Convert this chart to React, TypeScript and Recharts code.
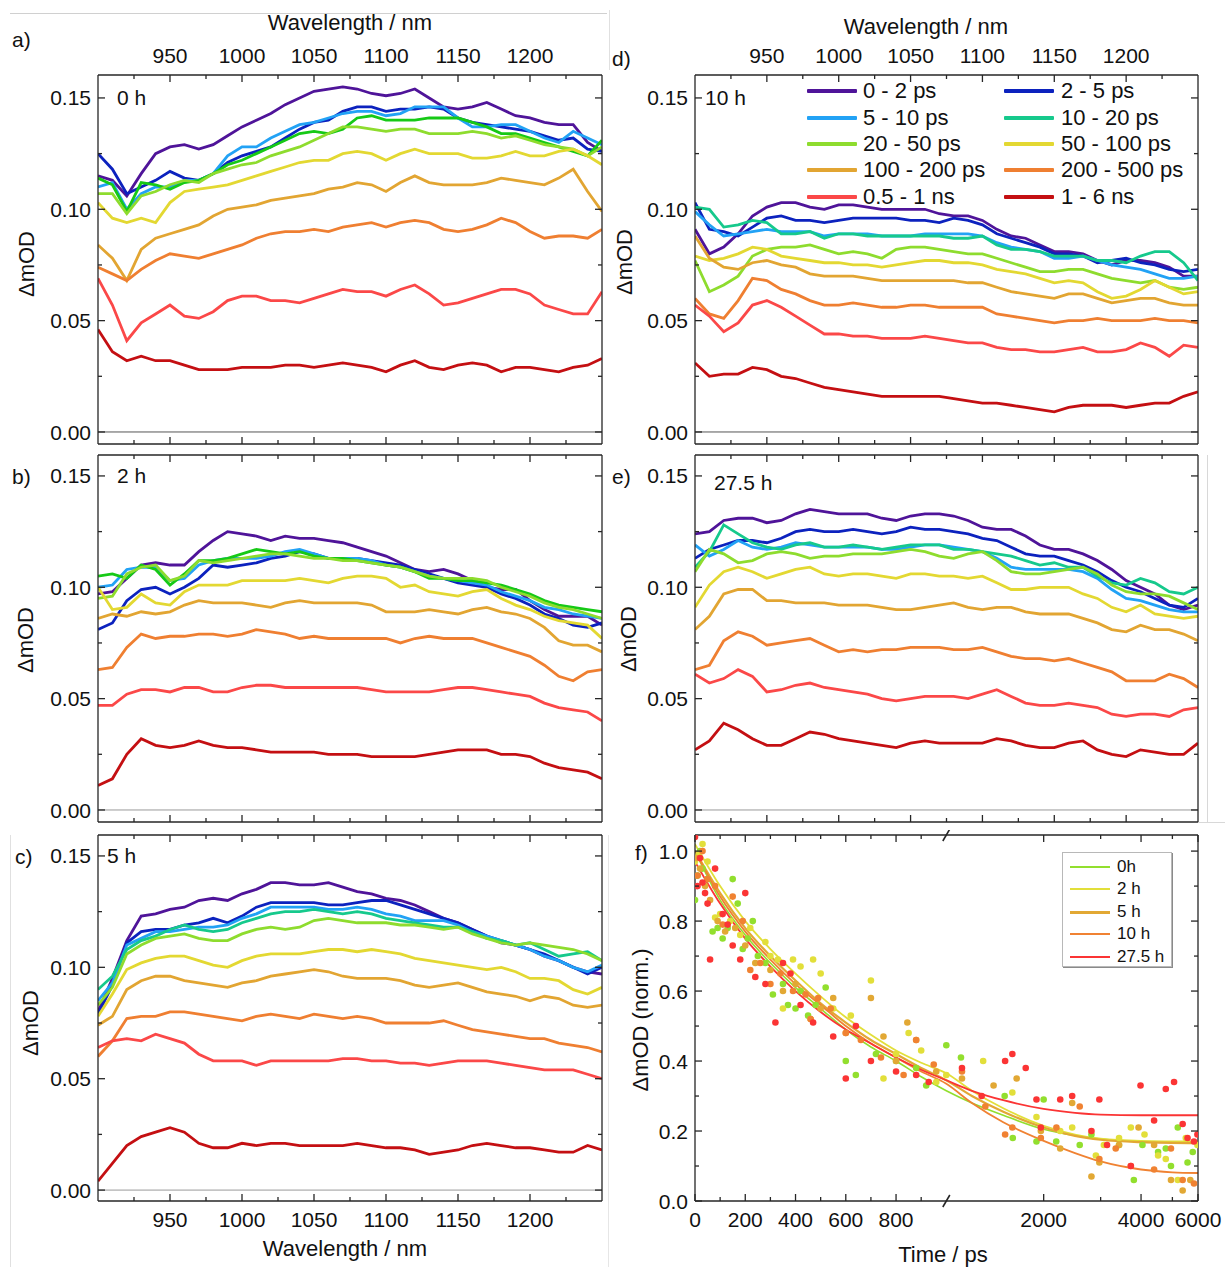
import React from 'react';
import { LineChart, Line, XAxis, YAxis, ReferenceLine, ComposedChart, Scatter, ReferenceDot } from 'recharts';

const FONT = '"Liberation Sans", Arial, Helvetica, sans-serif';

// ---------- spectra (panels a-e) ----------
const wavelengths = [900, 910, 920, 930, 940, 950, 960, 970, 980, 990, 1000, 1010, 1020, 1030, 1040, 1050, 1060, 1070, 1080, 1090, 1100, 1110, 1120, 1130, 1140, 1150, 1160, 1170, 1180, 1190, 1200, 1210, 1220, 1230, 1240, 1250];
const delayLabels = ['0 - 2 ps', '2 - 5 ps', '5 - 10 ps', '10 - 20 ps', '20 - 50 ps', '50 - 100 ps', '100 - 200 ps', '200 - 500 ps', '0.5 - 1 ns', '1 - 6 ns'];
const delayColors = ['#4f1499', '#0c22be', '#22a2f5', '#16c98c', '#8edc2e', '#e3d832', '#e2a532', '#ef7f31', '#fb4848', '#c40f12'];
const delayColorsEarly = ['#4f1499', '#0c22be', '#22a2f5', '#16c916', '#8edc2e', '#e3d832', '#e2a532', '#ef7f31', '#fb4848', '#c40f12'];

const xMajor = [950, 1000, 1050, 1100, 1150, 1200];
const xMinor = [925, 975, 1025, 1075, 1125, 1175, 1225];
const yMajor = [0, 0.05, 0.1, 0.15];
const yMinor = [0.025, 0.075, 0.125];

// 0 h
const spectra0h: number[][] = [
  [0.115, 0.113, 0.106, 0.116, 0.125, 0.128, 0.129, 0.127, 0.129, 0.133, 0.137, 0.140, 0.143, 0.147, 0.150, 0.153, 0.154, 0.155, 0.154, 0.152, 0.151, 0.152, 0.154, 0.150, 0.146, 0.145, 0.146, 0.148, 0.145, 0.142, 0.141, 0.139, 0.138, 0.138, 0.130, 0.126],
  [0.125, 0.118, 0.107, 0.110, 0.113, 0.117, 0.114, 0.113, 0.116, 0.121, 0.124, 0.126, 0.128, 0.132, 0.136, 0.139, 0.140, 0.144, 0.146, 0.146, 0.144, 0.145, 0.145, 0.146, 0.145, 0.141, 0.139, 0.138, 0.137, 0.136, 0.135, 0.133, 0.131, 0.132, 0.127, 0.126],
  [0.110, 0.112, 0.100, 0.107, 0.110, 0.110, 0.113, 0.113, 0.116, 0.124, 0.128, 0.128, 0.132, 0.135, 0.138, 0.139, 0.141, 0.143, 0.144, 0.144, 0.142, 0.143, 0.146, 0.146, 0.146, 0.141, 0.137, 0.137, 0.138, 0.138, 0.135, 0.132, 0.130, 0.135, 0.132, 0.129],
  [0.114, 0.111, 0.099, 0.112, 0.111, 0.109, 0.112, 0.113, 0.116, 0.120, 0.122, 0.125, 0.128, 0.131, 0.134, 0.135, 0.134, 0.136, 0.141, 0.142, 0.140, 0.140, 0.140, 0.141, 0.141, 0.141, 0.139, 0.137, 0.134, 0.134, 0.132, 0.130, 0.128, 0.126, 0.124, 0.131],
  [0.107, 0.107, 0.098, 0.106, 0.108, 0.111, 0.113, 0.112, 0.116, 0.118, 0.120, 0.121, 0.124, 0.126, 0.128, 0.131, 0.134, 0.137, 0.137, 0.136, 0.135, 0.136, 0.136, 0.134, 0.134, 0.134, 0.135, 0.134, 0.132, 0.133, 0.131, 0.129, 0.128, 0.127, 0.124, 0.128],
  [0.103, 0.096, 0.094, 0.096, 0.094, 0.103, 0.108, 0.109, 0.110, 0.111, 0.113, 0.115, 0.117, 0.119, 0.121, 0.122, 0.122, 0.125, 0.126, 0.125, 0.122, 0.125, 0.127, 0.125, 0.125, 0.125, 0.123, 0.123, 0.124, 0.126, 0.124, 0.124, 0.126, 0.127, 0.124, 0.120],
  [0.084, 0.078, 0.068, 0.082, 0.087, 0.089, 0.091, 0.093, 0.097, 0.100, 0.101, 0.102, 0.104, 0.105, 0.106, 0.107, 0.109, 0.110, 0.112, 0.111, 0.108, 0.112, 0.115, 0.112, 0.111, 0.111, 0.111, 0.112, 0.114, 0.113, 0.112, 0.111, 0.114, 0.118, 0.108, 0.099],
  [0.074, 0.071, 0.068, 0.073, 0.077, 0.080, 0.079, 0.078, 0.080, 0.082, 0.084, 0.087, 0.089, 0.090, 0.090, 0.091, 0.090, 0.092, 0.093, 0.094, 0.092, 0.094, 0.095, 0.094, 0.091, 0.090, 0.091, 0.093, 0.096, 0.094, 0.090, 0.087, 0.088, 0.088, 0.087, 0.091],
  [0.069, 0.057, 0.041, 0.049, 0.053, 0.057, 0.052, 0.051, 0.054, 0.059, 0.061, 0.061, 0.059, 0.059, 0.058, 0.060, 0.062, 0.064, 0.063, 0.063, 0.061, 0.064, 0.066, 0.062, 0.057, 0.058, 0.060, 0.062, 0.064, 0.064, 0.062, 0.057, 0.055, 0.053, 0.053, 0.063],
  [0.046, 0.036, 0.032, 0.034, 0.032, 0.032, 0.030, 0.028, 0.028, 0.028, 0.029, 0.029, 0.029, 0.030, 0.030, 0.029, 0.030, 0.031, 0.030, 0.029, 0.027, 0.030, 0.032, 0.029, 0.028, 0.030, 0.031, 0.030, 0.027, 0.029, 0.029, 0.028, 0.027, 0.029, 0.030, 0.033],
];

// 2 h
const spectra2h: number[][] = [
  [0.097, 0.098, 0.104, 0.110, 0.111, 0.110, 0.110, 0.116, 0.121, 0.125, 0.124, 0.123, 0.121, 0.123, 0.122, 0.122, 0.121, 0.120, 0.118, 0.116, 0.114, 0.111, 0.108, 0.107, 0.108, 0.106, 0.103, 0.100, 0.099, 0.099, 0.094, 0.090, 0.087, 0.087, 0.087, 0.083],
  [0.081, 0.084, 0.094, 0.099, 0.100, 0.097, 0.100, 0.104, 0.110, 0.109, 0.110, 0.111, 0.113, 0.114, 0.116, 0.115, 0.113, 0.113, 0.113, 0.112, 0.111, 0.110, 0.108, 0.106, 0.104, 0.102, 0.101, 0.100, 0.097, 0.095, 0.092, 0.088, 0.086, 0.083, 0.082, 0.084],
  [0.100, 0.101, 0.108, 0.109, 0.109, 0.103, 0.104, 0.110, 0.112, 0.113, 0.113, 0.113, 0.114, 0.116, 0.117, 0.115, 0.113, 0.113, 0.113, 0.112, 0.110, 0.109, 0.107, 0.105, 0.104, 0.103, 0.102, 0.101, 0.098, 0.096, 0.094, 0.091, 0.090, 0.088, 0.087, 0.086],
  [0.105, 0.106, 0.104, 0.110, 0.108, 0.101, 0.106, 0.112, 0.112, 0.113, 0.115, 0.117, 0.116, 0.115, 0.116, 0.114, 0.113, 0.113, 0.112, 0.111, 0.110, 0.109, 0.107, 0.104, 0.104, 0.103, 0.103, 0.102, 0.101, 0.099, 0.097, 0.094, 0.092, 0.091, 0.090, 0.089],
  [0.095, 0.096, 0.106, 0.109, 0.110, 0.103, 0.105, 0.112, 0.111, 0.112, 0.113, 0.114, 0.115, 0.115, 0.114, 0.113, 0.113, 0.112, 0.112, 0.111, 0.110, 0.109, 0.107, 0.105, 0.104, 0.104, 0.104, 0.103, 0.100, 0.098, 0.096, 0.093, 0.091, 0.090, 0.088, 0.086],
  [0.100, 0.090, 0.091, 0.097, 0.093, 0.092, 0.098, 0.101, 0.101, 0.101, 0.103, 0.103, 0.103, 0.103, 0.104, 0.103, 0.102, 0.104, 0.105, 0.105, 0.104, 0.100, 0.101, 0.098, 0.097, 0.096, 0.098, 0.099, 0.095, 0.092, 0.090, 0.087, 0.085, 0.084, 0.083, 0.077],
  [0.086, 0.088, 0.087, 0.089, 0.088, 0.089, 0.092, 0.094, 0.093, 0.093, 0.093, 0.092, 0.091, 0.093, 0.094, 0.093, 0.093, 0.093, 0.093, 0.092, 0.089, 0.089, 0.089, 0.090, 0.089, 0.088, 0.090, 0.091, 0.089, 0.088, 0.086, 0.082, 0.076, 0.074, 0.074, 0.071],
  [0.063, 0.064, 0.073, 0.079, 0.077, 0.078, 0.078, 0.079, 0.079, 0.078, 0.079, 0.081, 0.080, 0.079, 0.077, 0.078, 0.077, 0.077, 0.077, 0.077, 0.077, 0.075, 0.077, 0.078, 0.077, 0.077, 0.077, 0.075, 0.073, 0.071, 0.069, 0.065, 0.060, 0.058, 0.062, 0.063],
  [0.047, 0.047, 0.052, 0.054, 0.054, 0.053, 0.055, 0.055, 0.053, 0.053, 0.055, 0.056, 0.056, 0.055, 0.055, 0.055, 0.055, 0.055, 0.055, 0.054, 0.053, 0.053, 0.053, 0.053, 0.054, 0.055, 0.055, 0.054, 0.053, 0.052, 0.051, 0.048, 0.046, 0.045, 0.044, 0.040],
  [0.011, 0.014, 0.025, 0.032, 0.029, 0.028, 0.029, 0.031, 0.029, 0.028, 0.028, 0.027, 0.026, 0.026, 0.026, 0.026, 0.025, 0.025, 0.025, 0.024, 0.024, 0.024, 0.024, 0.025, 0.026, 0.027, 0.027, 0.027, 0.025, 0.025, 0.024, 0.021, 0.019, 0.018, 0.017, 0.014],
];

// 5 h
const spectra5h: number[][] = [
  [0.080, 0.095, 0.112, 0.123, 0.124, 0.126, 0.127, 0.130, 0.131, 0.130, 0.133, 0.135, 0.138, 0.138, 0.137, 0.137, 0.138, 0.136, 0.134, 0.133, 0.131, 0.130, 0.128, 0.125, 0.122, 0.120, 0.117, 0.114, 0.111, 0.110, 0.108, 0.105, 0.103, 0.100, 0.098, 0.097],
  [0.079, 0.092, 0.111, 0.116, 0.117, 0.117, 0.119, 0.120, 0.122, 0.120, 0.123, 0.127, 0.129, 0.129, 0.129, 0.129, 0.128, 0.128, 0.129, 0.130, 0.130, 0.128, 0.126, 0.124, 0.122, 0.120, 0.117, 0.114, 0.112, 0.110, 0.108, 0.106, 0.103, 0.100, 0.097, 0.100],
  [0.085, 0.093, 0.110, 0.113, 0.116, 0.116, 0.117, 0.118, 0.118, 0.119, 0.122, 0.124, 0.127, 0.127, 0.127, 0.127, 0.126, 0.126, 0.127, 0.126, 0.124, 0.123, 0.121, 0.121, 0.121, 0.119, 0.116, 0.114, 0.112, 0.110, 0.108, 0.105, 0.103, 0.100, 0.098, 0.101],
  [0.090, 0.096, 0.108, 0.112, 0.114, 0.117, 0.119, 0.117, 0.116, 0.117, 0.120, 0.122, 0.124, 0.125, 0.125, 0.126, 0.125, 0.124, 0.125, 0.124, 0.122, 0.121, 0.120, 0.119, 0.118, 0.118, 0.116, 0.113, 0.112, 0.110, 0.111, 0.108, 0.105, 0.106, 0.107, 0.103],
  [0.083, 0.091, 0.106, 0.110, 0.113, 0.114, 0.115, 0.113, 0.112, 0.112, 0.115, 0.117, 0.118, 0.117, 0.118, 0.121, 0.122, 0.121, 0.120, 0.120, 0.120, 0.119, 0.119, 0.118, 0.117, 0.118, 0.115, 0.113, 0.111, 0.110, 0.111, 0.110, 0.109, 0.108, 0.106, 0.103],
  [0.078, 0.088, 0.099, 0.102, 0.104, 0.105, 0.105, 0.103, 0.101, 0.100, 0.103, 0.105, 0.106, 0.106, 0.106, 0.107, 0.108, 0.108, 0.107, 0.108, 0.107, 0.106, 0.104, 0.103, 0.102, 0.101, 0.100, 0.099, 0.100, 0.098, 0.095, 0.095, 0.094, 0.090, 0.088, 0.091],
  [0.074, 0.078, 0.090, 0.094, 0.096, 0.096, 0.094, 0.093, 0.092, 0.091, 0.093, 0.094, 0.096, 0.097, 0.098, 0.099, 0.098, 0.096, 0.095, 0.095, 0.095, 0.094, 0.092, 0.091, 0.092, 0.093, 0.091, 0.089, 0.088, 0.087, 0.085, 0.087, 0.086, 0.083, 0.082, 0.083],
  [0.060, 0.067, 0.077, 0.078, 0.078, 0.080, 0.080, 0.079, 0.078, 0.077, 0.076, 0.078, 0.079, 0.078, 0.077, 0.079, 0.078, 0.077, 0.078, 0.077, 0.075, 0.075, 0.075, 0.075, 0.076, 0.074, 0.072, 0.071, 0.070, 0.069, 0.068, 0.068, 0.066, 0.065, 0.064, 0.062],
  [0.064, 0.067, 0.068, 0.067, 0.070, 0.068, 0.066, 0.061, 0.058, 0.058, 0.058, 0.056, 0.058, 0.058, 0.058, 0.058, 0.058, 0.059, 0.059, 0.058, 0.058, 0.057, 0.057, 0.056, 0.057, 0.058, 0.058, 0.058, 0.057, 0.056, 0.055, 0.054, 0.054, 0.054, 0.052, 0.050],
  [0.004, 0.012, 0.020, 0.024, 0.026, 0.028, 0.026, 0.021, 0.019, 0.019, 0.021, 0.020, 0.021, 0.021, 0.020, 0.020, 0.020, 0.020, 0.021, 0.020, 0.019, 0.019, 0.018, 0.016, 0.017, 0.018, 0.020, 0.021, 0.020, 0.019, 0.019, 0.018, 0.017, 0.017, 0.020, 0.018],
];

// 10 h
const spectra10h: number[][] = [
  [0.091, 0.080, 0.083, 0.089, 0.097, 0.101, 0.103, 0.103, 0.101, 0.100, 0.102, 0.102, 0.101, 0.100, 0.100, 0.100, 0.100, 0.098, 0.097, 0.097, 0.095, 0.091, 0.088, 0.087, 0.084, 0.081, 0.081, 0.080, 0.077, 0.075, 0.077, 0.077, 0.076, 0.074, 0.070, 0.070],
  [0.103, 0.091, 0.090, 0.088, 0.092, 0.096, 0.097, 0.095, 0.095, 0.094, 0.095, 0.096, 0.096, 0.096, 0.096, 0.095, 0.095, 0.094, 0.096, 0.095, 0.093, 0.089, 0.087, 0.085, 0.083, 0.080, 0.080, 0.079, 0.076, 0.077, 0.078, 0.076, 0.075, 0.073, 0.072, 0.073],
  [0.099, 0.093, 0.088, 0.089, 0.090, 0.091, 0.090, 0.090, 0.090, 0.088, 0.089, 0.089, 0.089, 0.088, 0.088, 0.088, 0.089, 0.089, 0.089, 0.089, 0.088, 0.085, 0.083, 0.082, 0.081, 0.078, 0.078, 0.079, 0.077, 0.075, 0.074, 0.073, 0.071, 0.069, 0.069, 0.070],
  [0.101, 0.100, 0.092, 0.093, 0.095, 0.094, 0.089, 0.089, 0.090, 0.087, 0.089, 0.089, 0.088, 0.088, 0.088, 0.088, 0.088, 0.088, 0.087, 0.087, 0.088, 0.084, 0.082, 0.082, 0.081, 0.079, 0.079, 0.079, 0.077, 0.077, 0.076, 0.079, 0.081, 0.081, 0.076, 0.068],
  [0.077, 0.063, 0.066, 0.070, 0.079, 0.082, 0.083, 0.083, 0.084, 0.082, 0.080, 0.081, 0.080, 0.078, 0.082, 0.083, 0.083, 0.082, 0.081, 0.080, 0.080, 0.078, 0.076, 0.074, 0.072, 0.072, 0.073, 0.073, 0.071, 0.069, 0.068, 0.067, 0.068, 0.065, 0.064, 0.065],
  [0.079, 0.077, 0.078, 0.080, 0.083, 0.082, 0.079, 0.078, 0.077, 0.076, 0.076, 0.075, 0.075, 0.074, 0.075, 0.076, 0.077, 0.077, 0.076, 0.076, 0.075, 0.073, 0.072, 0.071, 0.069, 0.067, 0.068, 0.067, 0.063, 0.060, 0.061, 0.064, 0.068, 0.065, 0.062, 0.063],
  [0.088, 0.078, 0.074, 0.073, 0.076, 0.077, 0.075, 0.074, 0.071, 0.070, 0.070, 0.070, 0.069, 0.068, 0.068, 0.068, 0.068, 0.068, 0.068, 0.067, 0.067, 0.065, 0.063, 0.062, 0.061, 0.060, 0.062, 0.062, 0.060, 0.058, 0.059, 0.060, 0.060, 0.058, 0.057, 0.057],
  [0.060, 0.053, 0.051, 0.059, 0.069, 0.068, 0.064, 0.062, 0.059, 0.057, 0.057, 0.058, 0.057, 0.056, 0.056, 0.057, 0.057, 0.056, 0.056, 0.056, 0.056, 0.053, 0.052, 0.051, 0.050, 0.049, 0.050, 0.050, 0.051, 0.050, 0.050, 0.050, 0.051, 0.050, 0.050, 0.049],
  [0.057, 0.052, 0.045, 0.049, 0.057, 0.059, 0.056, 0.052, 0.048, 0.044, 0.044, 0.043, 0.043, 0.042, 0.042, 0.042, 0.043, 0.042, 0.041, 0.040, 0.040, 0.038, 0.037, 0.037, 0.036, 0.036, 0.037, 0.038, 0.036, 0.036, 0.037, 0.040, 0.038, 0.034, 0.039, 0.038],
  [0.031, 0.025, 0.026, 0.026, 0.029, 0.028, 0.025, 0.024, 0.022, 0.020, 0.019, 0.018, 0.017, 0.016, 0.016, 0.016, 0.016, 0.016, 0.015, 0.014, 0.013, 0.013, 0.012, 0.011, 0.010, 0.009, 0.011, 0.012, 0.012, 0.012, 0.011, 0.012, 0.013, 0.013, 0.016, 0.018],
];

// 27.5 h
const spectra27h: number[][] = [
  [0.124, 0.125, 0.130, 0.131, 0.131, 0.129, 0.130, 0.133, 0.135, 0.134, 0.133, 0.133, 0.133, 0.131, 0.130, 0.132, 0.133, 0.133, 0.132, 0.130, 0.127, 0.126, 0.126, 0.123, 0.119, 0.117, 0.117, 0.115, 0.112, 0.108, 0.103, 0.100, 0.097, 0.092, 0.090, 0.092],
  [0.113, 0.117, 0.119, 0.121, 0.121, 0.120, 0.122, 0.125, 0.126, 0.125, 0.125, 0.126, 0.125, 0.124, 0.125, 0.127, 0.126, 0.126, 0.125, 0.124, 0.122, 0.121, 0.118, 0.115, 0.114, 0.114, 0.112, 0.110, 0.107, 0.103, 0.100, 0.098, 0.095, 0.092, 0.091, 0.095],
  [0.119, 0.114, 0.117, 0.121, 0.118, 0.117, 0.118, 0.120, 0.119, 0.118, 0.118, 0.118, 0.118, 0.117, 0.117, 0.118, 0.119, 0.119, 0.118, 0.117, 0.116, 0.113, 0.109, 0.108, 0.108, 0.108, 0.108, 0.107, 0.104, 0.099, 0.095, 0.094, 0.092, 0.090, 0.089, 0.089],
  [0.109, 0.116, 0.128, 0.124, 0.120, 0.118, 0.117, 0.119, 0.120, 0.118, 0.118, 0.119, 0.118, 0.117, 0.118, 0.119, 0.119, 0.119, 0.117, 0.117, 0.116, 0.115, 0.114, 0.112, 0.110, 0.111, 0.109, 0.109, 0.105, 0.102, 0.101, 0.104, 0.102, 0.098, 0.097, 0.100],
  [0.107, 0.117, 0.115, 0.111, 0.112, 0.115, 0.116, 0.115, 0.113, 0.114, 0.114, 0.115, 0.115, 0.115, 0.116, 0.117, 0.116, 0.114, 0.113, 0.115, 0.116, 0.112, 0.107, 0.106, 0.106, 0.107, 0.108, 0.109, 0.106, 0.101, 0.098, 0.097, 0.097, 0.096, 0.093, 0.090],
  [0.091, 0.101, 0.107, 0.109, 0.107, 0.104, 0.106, 0.108, 0.109, 0.106, 0.105, 0.106, 0.106, 0.105, 0.104, 0.106, 0.106, 0.105, 0.105, 0.104, 0.105, 0.102, 0.099, 0.099, 0.100, 0.100, 0.100, 0.097, 0.095, 0.091, 0.089, 0.092, 0.088, 0.087, 0.086, 0.087],
  [0.081, 0.087, 0.097, 0.099, 0.099, 0.094, 0.094, 0.093, 0.093, 0.093, 0.092, 0.092, 0.092, 0.091, 0.090, 0.090, 0.091, 0.092, 0.093, 0.091, 0.090, 0.091, 0.091, 0.089, 0.088, 0.088, 0.088, 0.086, 0.084, 0.081, 0.080, 0.083, 0.081, 0.081, 0.079, 0.076],
  [0.063, 0.065, 0.076, 0.080, 0.078, 0.074, 0.075, 0.076, 0.077, 0.074, 0.071, 0.072, 0.071, 0.072, 0.072, 0.073, 0.073, 0.073, 0.072, 0.072, 0.073, 0.071, 0.069, 0.068, 0.068, 0.067, 0.068, 0.066, 0.064, 0.062, 0.058, 0.058, 0.058, 0.061, 0.059, 0.055],
  [0.061, 0.057, 0.059, 0.063, 0.060, 0.053, 0.054, 0.056, 0.057, 0.055, 0.054, 0.053, 0.052, 0.050, 0.049, 0.050, 0.051, 0.051, 0.051, 0.050, 0.052, 0.054, 0.051, 0.048, 0.047, 0.047, 0.048, 0.047, 0.046, 0.043, 0.042, 0.043, 0.043, 0.042, 0.045, 0.046],
  [0.027, 0.031, 0.039, 0.036, 0.032, 0.029, 0.029, 0.032, 0.035, 0.034, 0.032, 0.031, 0.030, 0.029, 0.028, 0.030, 0.031, 0.030, 0.030, 0.030, 0.030, 0.032, 0.031, 0.029, 0.028, 0.028, 0.030, 0.031, 0.027, 0.025, 0.024, 0.027, 0.026, 0.025, 0.025, 0.030],
];

// ---------- kinetics (panel f) ----------
const kineticLabels = ['0h', '2 h', '5 h', '10 h', '27.5 h'];
const kineticColors = ['#92df2e', '#e2df3a', '#e2a834', '#f08232', '#fb3434'];

const dots0h: [number, number][] = [[0, 0.86], [10, 0.93], [20, 1.0], [30, 0.95], [50, 0.92], [70, 0.77], [90, 0.78], [110, 0.75], [130, 0.78], [150, 0.92], [170, 0.85], [190, 0.72], [210, 0.75], [230, 0.80], [250, 0.70], [280, 0.68], [310, 0.59], [350, 0.62], [370, 0.56], [400, 0.55], [420, 0.60], [450, 0.53], [480, 0.56], [520, 0.61], [600, 0.40], [640, 0.36], [720, 0.42], [800, 0.40], [880, 0.38], [920, 0.33], [1000, 0.445], [1110, 0.41], [1515, 0.30], [1605, 0.18], [1900, 0.17], [2000, 0.29], [2187, 0.17], [2585, 0.16], [2810, 0.19], [3420, 0.16], [3800, 0.06], [4040, 0.16], [4516, 0.14], [4770, 0.15], [4950, 0.10], [5196, 0.21], [5570, 0.11], [5780, 0.14]];
const dots2h: [number, number][] = [[0, 0.97], [15, 0.99], [30, 1.02], [50, 0.97], [80, 0.81], [100, 0.82], [140, 0.80], [180, 0.76], [220, 0.78], [280, 0.74], [300, 0.70], [330, 0.69], [350, 0.55], [390, 0.69], [420, 0.67], [470, 0.69], [500, 0.65], [550, 0.55], [620, 0.53], [700, 0.63], [750, 0.35], [800, 0.42], [850, 0.48], [900, 0.43], [960, 0.34], [1000, 0.36], [1300, 0.40], [1600, 0.31], [1900, 0.24], [2250, 0.20], [2450, 0.21], [2900, 0.13], [3070, 0.16], [3420, 0.18], [3720, 0.21], [4100, 0.19], [4516, 0.13], [4770, 0.12], [5196, 0.06], [5500, 0.18], [5976, 0.16]];
const dots5h: [number, number][] = [[5, 0.98], [20, 0.95], [40, 0.90], [60, 0.86], [90, 0.80], [120, 0.77], [160, 0.78], [200, 0.73], [240, 0.68], [300, 0.66], [350, 0.60], [400, 0.62], [460, 0.52], [500, 0.55], [550, 0.58], [600, 0.48], [700, 0.58], [750, 0.47], [800, 0.40], [845, 0.51], [880, 0.46], [960, 0.37], [1118, 0.35], [1400, 0.33], [1650, 0.35], [1960, 0.20], [2250, 0.15], [2450, 0.28], [2810, 0.07], [2973, 0.11], [3420, 0.16], [3930, 0.21], [4390, 0.16], [4950, 0.06], [5380, 0.03], [5680, 0.06]];
const dots10h: [number, number][] = [[10, 0.93], [30, 1.0], [50, 0.92], [80, 0.90], [110, 0.79], [150, 0.87], [190, 0.80], [220, 0.66], [260, 0.68], [300, 0.62], [340, 0.65], [390, 0.60], [440, 0.59], [460, 0.52], [490, 0.58], [540, 0.55], [600, 0.48], [660, 0.46], [740, 0.41], [830, 0.36], [880, 0.46], [950, 0.39], [1118, 0.37], [1320, 0.27], [1520, 0.19], [1600, 0.21], [1960, 0.18], [2190, 0.21], [2585, 0.27], [2973, 0.12], [3340, 0.15], [3720, 0.10], [4390, 0.09], [4950, 0.15], [5380, 0.06], [5830, 0.05]];
const dots27h: [number, number][] = [[0, 1.04], [10, 0.90], [20, 0.98], [30, 0.91], [40, 0.88], [50, 0.85], [60, 0.69], [80, 0.95], [110, 0.82], [130, 0.79], [150, 0.73], [180, 0.69], [200, 0.88], [240, 0.64], [280, 0.62], [320, 0.51], [350, 0.68], [380, 0.65], [420, 0.56], [470, 0.51], [550, 0.47], [600, 0.35], [640, 0.50], [700, 0.40], [800, 0.37], [880, 0.36], [930, 0.34], [1118, 0.38], [1286, 0.30], [1520, 0.40], [1600, 0.42], [1760, 0.38], [1900, 0.29], [1960, 0.21], [2250, 0.29], [2450, 0.30], [2810, 0.20], [2973, 0.29], [3140, 0.16], [3720, 0.10], [3985, 0.33], [4390, 0.23], [4770, 0.32], [5060, 0.34], [5380, 0.22], [5570, 0.18], [5830, 0.17], [5976, 0.19]];

const fit0h: [number, number][] = [[0, 1.0], [100, 0.86], [200, 0.76], [300, 0.68], [400, 0.61], [500, 0.55], [600, 0.49], [700, 0.44], [800, 0.40], [900, 0.355], [1000, 0.315], [1200, 0.28], [1500, 0.245], [2000, 0.205], [2500, 0.187], [3000, 0.177], [4000, 0.17], [6000, 0.168]];
const fit2h: [number, number][] = [[0, 1.02], [100, 0.90], [200, 0.80], [300, 0.72], [400, 0.65], [500, 0.585], [600, 0.525], [700, 0.475], [800, 0.43], [900, 0.395], [1000, 0.365], [1200, 0.315], [1500, 0.265], [2000, 0.215], [2500, 0.19], [3000, 0.178], [4000, 0.172], [6000, 0.17]];
const fit5h: [number, number][] = [[0, 1.0], [100, 0.88], [200, 0.78], [300, 0.70], [400, 0.63], [500, 0.565], [600, 0.51], [700, 0.46], [800, 0.42], [900, 0.38], [1000, 0.345], [1200, 0.30], [1500, 0.255], [2000, 0.21], [2500, 0.186], [3000, 0.175], [4000, 0.168], [6000, 0.165]];
const fit10h: [number, number][] = [[0, 1.0], [100, 0.87], [200, 0.77], [300, 0.69], [400, 0.62], [500, 0.56], [600, 0.50], [700, 0.45], [800, 0.41], [900, 0.37], [1000, 0.335], [1200, 0.28], [1500, 0.225], [2000, 0.172], [2500, 0.137], [3000, 0.113], [4000, 0.09], [5000, 0.082], [6000, 0.08]];
const fit27h: [number, number][] = [[0, 0.97], [100, 0.85], [200, 0.75], [300, 0.67], [400, 0.60], [500, 0.54], [600, 0.49], [700, 0.45], [800, 0.41], [900, 0.375], [1000, 0.345], [1200, 0.315], [1500, 0.288], [2000, 0.263], [2500, 0.252], [3000, 0.247], [4000, 0.245], [6000, 0.245]];

const timeMajor = [0, 200, 400, 600, 800, 2000, 4000, 6000];
const timeMinor = [100, 300, 500, 700, 900, 3000, 5000];
const kinYMajor = [0, 0.2, 0.4, 0.6, 0.8, 1.0];
const kinYMinor = [0.1, 0.3, 0.5, 0.7, 0.9];

// broken time axis: linear 0-1000 ps, log 1000-6000 ps
const LOG_SPAN = 1287;
const toU = (t: number) => (t <= 1000 ? t : 1000 + LOG_SPAN * Math.log10(t / 1000));
const fromU = (u: number) => (u <= 1000 ? u : 1000 * Math.pow(10, (u - 1000) / LOG_SPAN));

const AX = '#262626';
const axisLineStyle = { stroke: AX, strokeWidth: 1.3 };

type Side = 'left' | 'right' | 'top' | 'bottom';
// tick renderer: inward tick lines (long for major, short for minor) and optional labels for majors
function makeTick(side: Side, majors: number[], fmt: ((v: number) => string) | null) {
  return (props: any) => {
    const { x, y, payload } = props;
    const v = payload.value as number;
    const major = majors.some((m) => Math.abs(m - v) < 1e-6);
    const len = major ? 7 : 4;
    let ln: React.ReactNode;
    let label: React.ReactNode = null;
    const ts = { fontSize: 21, fill: '#111', fontFamily: FONT } as const;
    if (side === 'left') {
      ln = <line x1={x} y1={y} x2={x + len} y2={y} stroke={AX} strokeWidth={1.3} />;
      if (fmt && major) label = <text x={x - 7} y={y} dy="0.36em" textAnchor="end" {...ts}>{fmt(v)}</text>;
    } else if (side === 'right') {
      ln = <line x1={x} y1={y} x2={x - len} y2={y} stroke={AX} strokeWidth={1.3} />;
    } else if (side === 'top') {
      ln = <line x1={x} y1={y} x2={x} y2={y + len} stroke={AX} strokeWidth={1.3} />;
      if (fmt && major) label = <text x={x} y={y - 12} textAnchor="middle" {...ts}>{fmt(v)}</text>;
    } else {
      ln = <line x1={x} y1={y} x2={x} y2={y - len} stroke={AX} strokeWidth={1.3} />;
      if (fmt && major) label = <text x={x} y={y + 10} dy="0.75em" textAnchor="middle" {...ts}>{fmt(v)}</text>;
    }
    return <g>{ln}{label}</g>;
  };
}

const sortNum = (a: number[]) => [...a].sort((p, q) => p - q);

type PanelProps = {
  left: number; top: number; width: number; height: number;
  margin: { top: number; right: number; bottom: number; left: number };
  yDomain: [number, number];
  series: number[][];
  colors: string[];
  topLabels?: boolean;
  bottomLabels?: boolean;
  zeroColor: string;
};

const xAll = sortNum([...xMajor, ...xMinor]);
const yAll = sortNum([...yMajor, ...yMinor]);
const fmtInt = (v: number) => String(v);
const fmt2 = (v: number) => v.toFixed(2);

function SpectraPanel(p: PanelProps) {
  const data = wavelengths.map((w, i) => {
    const row: Record<string, number> = { w };
    p.series.forEach((s, k) => { row['s' + k] = s[i]; });
    return row;
  });
  const xProps = { dataKey: 'w', type: 'number' as const, domain: [900, 1250], allowDataOverflow: true, ticks: xAll, interval: 0 as const, tickLine: false, tickSize: 0, tickMargin: 0, axisLine: axisLineStyle };
  const yProps = { type: 'number' as const, domain: p.yDomain, allowDataOverflow: true, ticks: yAll, interval: 0 as const, tickLine: false, tickSize: 0, tickMargin: 0, axisLine: axisLineStyle };
  return (
    <div style={{ position: 'absolute', left: p.left, top: p.top, width: p.width, height: p.height }}>
      <LineChart width={p.width} height={p.height} data={data} margin={p.margin}>
        <XAxis xAxisId="xb" {...xProps} orientation="bottom" height={p.bottomLabels ? 40 : 1} tick={makeTick('bottom', xMajor, p.bottomLabels ? fmtInt : null)} />
        <XAxis xAxisId="xt" {...xProps} orientation="top" height={p.topLabels ? 45 : 1} tick={makeTick('top', xMajor, p.topLabels ? fmtInt : null)} />
        <YAxis yAxisId="yl" {...yProps} orientation="left" width={60} tick={makeTick('left', yMajor, fmt2)} />
        <YAxis yAxisId="yr" {...yProps} orientation="right" width={1} tick={makeTick('right', yMajor, null)} />
        <ReferenceLine xAxisId="xb" yAxisId="yl" y={0} stroke={p.zeroColor} strokeWidth={1} />
        {p.series.map((_, k) => (
          <Line key={k} xAxisId="xb" yAxisId="yl" dataKey={'s' + k} type="linear" stroke={p.colors[k]} strokeWidth={2.8} dot={false} activeDot={false} isAnimationActive={false} />
        ))}
      </LineChart>
    </div>
  );
}

const slash = (props: any) => (
  <line x1={props.cx - 3.5} y1={props.cy + 6} x2={props.cx + 3.5} y2={props.cy - 6} stroke={AX} strokeWidth={1.6} />
);

function KineticsPanel() {
  const W = 615, H = 437;
  const dotSets = [dots0h, dots2h, dots5h, dots10h, dots27h].map((d) => d.map(([t, v]) => ({ x: toU(t), y: v })));
  const fitSets = [fit0h, fit2h, fit5h, fit10h, fit27h].map((d) => d.map(([t, v]) => ({ x: toU(t), y: v })));
  const uMax = toU(6000);
  const uMajor = timeMajor.map(toU);
  const uAll = sortNum([...timeMajor, ...timeMinor]).map(toU);
  const kyAll = sortNum([...kinYMajor, ...kinYMinor]);
  const xProps = { dataKey: 'x', type: 'number' as const, domain: [0, uMax], allowDataOverflow: true, ticks: uAll, interval: 0 as const, tickLine: false, tickSize: 0, tickMargin: 0, axisLine: axisLineStyle };
  const yProps = { dataKey: 'y', type: 'number' as const, domain: [0, 1.046], allowDataOverflow: true, ticks: kyAll, interval: 0 as const, tickLine: false, tickSize: 0, tickMargin: 0, axisLine: axisLineStyle };
  const fitWidths = [1.6, 1.8, 2.2, 1.8, 1.8];
  const fmtTime = (u: number) => String(Math.round(fromU(u) / 100) * 100);
  return (
    <div style={{ position: 'absolute', left: 610, top: 830, width: W, height: H }}>
      <ComposedChart width={W} height={H} margin={{ top: 4, right: 26, bottom: 26, left: 25 }}>
        <XAxis xAxisId="xb" {...xProps} orientation="bottom" height={40} tick={makeTick('bottom', uMajor, fmtTime)} />
        <XAxis xAxisId="xt" {...xProps} orientation="top" height={1} tick={makeTick('top', uMajor, null)} />
        <YAxis yAxisId="yl" {...yProps} orientation="left" width={60} tick={makeTick('left', kinYMajor, (v: number) => v.toFixed(1))} />
        <YAxis yAxisId="yr" {...yProps} orientation="right" width={1} tick={makeTick('right', kinYMajor, null)} />
        {dotSets.map((d, k) => (
          <Scatter key={'s' + k} xAxisId="xb" yAxisId="yl" data={d} fill={kineticColors[k]} isAnimationActive={false}
            shape={(sp: any) => <circle cx={sp.cx} cy={sp.cy} r={3.3} fill={kineticColors[k]} />} />
        ))}
        {fitSets.map((d, k) => (
          <Line key={'f' + k} xAxisId="xb" yAxisId="yl" data={d} dataKey="y" type="monotone" stroke={kineticColors[k]} strokeWidth={fitWidths[k]} dot={false} activeDot={false} isAnimationActive={false} />
        ))}
        <ReferenceDot xAxisId="xb" yAxisId="yl" x={1000} y={0} r={0} ifOverflow="visible" shape={slash} />
        <ReferenceDot xAxisId="xb" yAxisId="yl" x={1000} y={1.046} r={0} ifOverflow="visible" shape={slash} />
      </ComposedChart>
    </div>
  );
}

const txt = (s: React.CSSProperties): React.CSSProperties => ({ position: 'absolute', fontFamily: FONT, color: '#111', lineHeight: 1, whiteSpace: 'nowrap', ...s });

function Text({ x, y, size = 21, children }: { x: number; y: number; size?: number; children: React.ReactNode }) {
  return <div style={txt({ left: x, top: y, fontSize: size })}>{children}</div>;
}
function CenterText({ cx, y, size = 22, children }: { cx: number; y: number; size?: number; children: React.ReactNode }) {
  return <div style={txt({ left: cx, top: y, fontSize: size, transform: 'translateX(-50%)' })}>{children}</div>;
}
function VText({ cx, cy, size = 22, children }: { cx: number; cy: number; size?: number; children: React.ReactNode }) {
  return <div style={txt({ left: cx, top: cy, fontSize: size, transform: 'translate(-50%, -50%) rotate(-90deg)' })}>{children}</div>;
}

function SpectraLegend() {
  const rows = [0, 1, 2, 3, 4];
  const rowY = [91, 118, 144, 170, 197];
  return (
    <>
      {rows.map((r) => [0, 1].map((c) => {
        const k = r * 2 + c;
        const lx = c === 0 ? 807 : 1004;
        const tx = c === 0 ? 863 : 1061;
        return (
          <React.Fragment key={k}>
            <div style={{ position: 'absolute', left: lx, top: rowY[r] - 2, width: 50, height: 4, background: delayColors[k], borderRadius: 1 }} />
            <Text x={tx} y={rowY[r] - 11} size={22}>{delayLabels[k]}</Text>
          </React.Fragment>
        );
      }))}
    </>
  );
}

function KineticsLegend() {
  const rowY = [867, 889, 912, 934, 957];
  const widths = [1.6, 2, 3, 2, 1.6];
  return (
    <>
      <div style={{ position: 'absolute', left: 1062, top: 852, width: 108, height: 113, border: '1px solid #b8b8b8', boxShadow: '1px 1px 0 #8a8a8a', background: 'transparent' }} />
      {kineticLabels.map((l, k) => (
        <React.Fragment key={k}>
          <div style={{ position: 'absolute', left: 1070, top: rowY[k] - widths[k] / 2, width: 40, height: widths[k], background: kineticColors[k] }} />
          <Text x={1117} y={rowY[k] - 9} size={17}>{l}</Text>
        </React.Fragment>
      ))}
    </>
  );
}

export default function App() {
  return (
    <div style={{ position: 'absolute', left: 0, top: 0, width: 1225, height: 1267, background: '#fff', overflow: 'hidden' }}>
      {/* frame artefacts */}
      <div style={{ position: 'absolute', left: 10, top: 13, width: 597, height: 1, background: '#d0d0d0' }} />
      <div style={{ position: 'absolute', left: 609, top: 10, width: 1, height: 60, background: '#e0e0e0' }} />
      <div style={{ position: 'absolute', left: 1207, top: 455, width: 1, height: 367, background: '#d8d8d8' }} />
      <div style={{ position: 'absolute', left: 1198, top: 822, width: 27, height: 1, background: '#d8d8d8' }} />
      <div style={{ position: 'absolute', left: 10, top: 835, width: 1, height: 432, background: '#e0e0e0' }} />
      <div style={{ position: 'absolute', left: 608, top: 835, width: 1, height: 432, background: '#e6e6e6' }} />

      <SpectraPanel left={0} top={0} width={612} height={450} margin={{ top: 30, right: 9, bottom: 5, left: 38 }} yDomain={[-0.0054, 0.1603]} series={spectra0h} colors={delayColorsEarly} topLabels zeroColor="#555" />
      <SpectraPanel left={0} top={450} width={612} height={380} margin={{ top: 4, right: 9, bottom: 7, left: 38 }} yDomain={[-0.0054, 0.1594]} series={spectra2h} colors={delayColorsEarly} zeroColor="#999" />
      <SpectraPanel left={0} top={830} width={612} height={437} margin={{ top: 4, right: 9, bottom: 26, left: 38 }} yDomain={[-0.0049, 0.1594]} series={spectra5h} colors={delayColors} bottomLabels zeroColor="#999" />
      <SpectraPanel left={610} top={0} width={615} height={450} margin={{ top: 30, right: 26, bottom: 5, left: 25 }} yDomain={[-0.0054, 0.1603]} series={spectra10h} colors={delayColors} topLabels zeroColor="#555" />
      <SpectraPanel left={610} top={450} width={615} height={380} margin={{ top: 4, right: 26, bottom: 7, left: 25 }} yDomain={[-0.0054, 0.1594]} series={spectra27h} colors={delayColors} zeroColor="#999" />
      <KineticsPanel />

      <SpectraLegend />
      <KineticsLegend />

      {/* panel letters */}
      <Text x={12} y={29}>a)</Text>
      <Text x={12} y={466}>b)</Text>
      <Text x={15} y={846}>c)</Text>
      <Text x={612} y={48}>d)</Text>
      <Text x={612} y={466}>e)</Text>
      <Text x={635} y={842}>f)</Text>

      {/* sample ages */}
      <Text x={117} y={87}>0 h</Text>
      <Text x={117} y={465}>2 h</Text>
      <Text x={107} y={845}>5 h</Text>
      <Text x={705} y={87}>10 h</Text>
      <Text x={714} y={472}>27.5 h</Text>

      {/* axis titles */}
      <CenterText cx={350} y={12}>Wavelength / nm</CenterText>
      <CenterText cx={926} y={16}>Wavelength / nm</CenterText>
      <CenterText cx={345} y={1238}>Wavelength / nm</CenterText>
      <CenterText cx={943} y={1244}>Time / ps</CenterText>
      <VText cx={27} cy={264}>ΔmOD</VText>
      <VText cx={26} cy={640}>ΔmOD</VText>
      <VText cx={31} cy={1023}>ΔmOD</VText>
      <VText cx={625} cy={262}>ΔmOD</VText>
      <VText cx={629} cy={639}>ΔmOD</VText>
      <VText cx={641} cy={1020}>ΔmOD (norm.)</VText>
    </div>
  );
}
